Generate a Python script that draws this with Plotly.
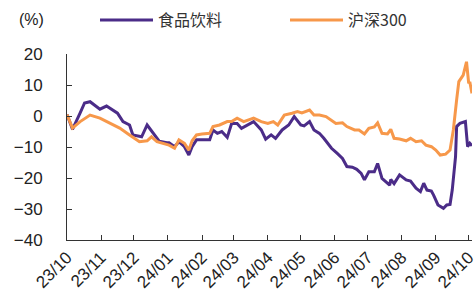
import plotly.graph_objects as go

# 沪深300 (orange)
hs_dates = ["2023-10-01","2023-10-06","2023-10-13","2023-10-22","2023-10-31","2023-11-09","2023-11-18","2023-11-27",
            "2023-12-06","2023-12-13","2023-12-17","2023-12-22","2023-12-27","2024-01-02","2024-01-07","2024-01-11",
            "2024-01-16","2024-01-20","2024-01-23","2024-01-27","2024-02-01","2024-02-08","2024-02-11","2024-02-17",
            "2024-02-24","2024-02-28","2024-03-04","2024-03-10","2024-03-19","2024-03-26","2024-04-01","2024-04-06",
            "2024-04-10","2024-04-16","2024-04-23","2024-04-28","2024-05-02","2024-05-09","2024-05-13","2024-05-18",
            "2024-05-24","2024-05-29","2024-06-02","2024-06-08","2024-06-12","2024-06-19","2024-06-23","2024-06-28",
            "2024-07-02","2024-07-07","2024-07-10","2024-07-14","2024-07-19","2024-07-22","2024-07-25","2024-07-30",
            "2024-08-05","2024-08-09","2024-08-14","2024-08-19","2024-08-23","2024-08-28","2024-09-01","2024-09-05",
            "2024-09-10","2024-09-14","2024-09-17","2024-09-20","2024-09-22","2024-09-26","2024-09-29","2024-10-01",
            "2024-10-02","2024-10-04"]
hs_values = [0.5,-3.9,-1.8,0.3,-0.7,-2.2,-3.9,-6.1,
             -8.3,-8.0,-6.7,-8.3,-8.8,-9.4,-10.4,-7.7,
             -8.8,-11.0,-8.0,-6.1,-5.8,-5.6,-3.4,-2.9,
             -1.8,-1.8,-0.7,-1.8,-0.7,-1.8,-2.4,-1.8,
             -2.9,0.3,0.9,1.4,1.0,1.9,0.3,0.3,
             -0.2,-1.3,-2.4,-2.2,-3.4,-4.5,-4.5,-5.8,
             -4.0,-3.5,-2.2,-5.6,-5.8,-4.3,-7.2,-7.4,
             -8.0,-7.2,-8.3,-8.0,-9.4,-9.9,-11.0,-12.6,
             -12.3,-11.0,-4.5,5.2,11.1,13.2,17.5,10.5,
             11.0,7.3]

# 食品饮料 (purple)
fb_dates = ["2023-10-01","2023-10-06","2023-10-13","2023-10-17","2023-10-22","2023-10-26","2023-10-31","2023-11-06",
            "2023-11-12","2023-11-16","2023-11-21","2023-11-27","2023-11-30","2023-12-08","2023-12-13","2023-12-20",
            "2023-12-24","2023-12-31","2024-01-02","2024-01-07","2024-01-11","2024-01-16","2024-01-20","2024-01-23",
            "2024-01-27","2024-02-01","2024-02-08","2024-02-11","2024-02-15","2024-02-19","2024-02-24","2024-02-28",
            "2024-03-04","2024-03-08","2024-03-13","2024-03-19","2024-03-26","2024-03-30","2024-04-04","2024-04-08",
            "2024-04-14","2024-04-20","2024-04-25","2024-05-01","2024-05-04","2024-05-09","2024-05-13","2024-05-18",
            "2024-05-22","2024-05-29","2024-06-03","2024-06-08","2024-06-12","2024-06-17","2024-06-21","2024-06-25",
            "2024-06-28","2024-07-02","2024-07-07","2024-07-10","2024-07-14","2024-07-21","2024-07-22","2024-07-25",
            "2024-07-30","2024-08-05","2024-08-09","2024-08-14","2024-08-18","2024-08-21","2024-08-24","2024-08-28",
            "2024-08-30","2024-09-03","2024-09-08","2024-09-11","2024-09-14","2024-09-16","2024-09-19","2024-09-20",
            "2024-09-23","2024-09-28","2024-09-30","2024-10-02","2024-10-04"]
fb_values = [0.5,-4.3,1.0,4.2,4.6,3.5,2.2,3.2,
             1.9,0.9,-1.8,-2.9,-6.1,-6.7,-2.9,-6.1,
             -8.1,-8.6,-8.6,-9.9,-8.3,-9.9,-12.6,-9.9,
             -7.7,-7.7,-7.7,-4.5,-5.6,-5.0,-6.9,-2.4,
             -2.4,-4.0,-2.9,-1.8,-4.5,-7.5,-6.1,-7.2,
             -4.5,-2.9,-0.2,-2.9,-3.2,-1.8,-4.5,-5.6,
             -7.2,-10.4,-12.0,-13.7,-16.3,-16.5,-17.2,-18.5,
             -20.6,-18.0,-18.0,-15.3,-20.1,-22.3,-20.5,-21.8,
             -19.0,-20.6,-21.0,-23.3,-24.4,-21.7,-23.9,-24.2,
             -25.5,-28.7,-29.8,-28.7,-28.5,-23.9,-13.1,-3.4,
             -2.4,-1.8,-9.9,-8.8,-9.6]

tick_vals = ["2023-10-01","2023-11-01","2023-12-01","2024-01-01","2024-02-01","2024-03-01","2024-04-01",
             "2024-05-01","2024-06-01","2024-07-01","2024-08-01","2024-09-01","2024-10-01"]
tick_text = ["23/10","23/11","23/12","24/01","24/02","24/03","24/04","24/05","24/06","24/07","24/08","24/09","24/10"]
y_ticks = [-40, -30, -20, -10, 0, 10, 20]

FONT = "Liberation Sans, Arial, Noto Sans CJK SC, sans-serif"
LEG_FONT = dict(size=16, family="Noto Sans CJK SC, Liberation Sans, sans-serif", color="#333333")

fig = go.Figure()
fig.add_trace(go.Scatter(x=fb_dates, y=fb_values, name="食品饮料", mode="lines",
                         line=dict(color="#4B2C88", width=3), legend="legend"))
fig.add_trace(go.Scatter(x=hs_dates, y=hs_values, name="沪深300", mode="lines",
                         line=dict(color="#F7984A", width=3), legend="legend2"))

fig.update_layout(
    width=474, height=300,
    margin=dict(l=67, r=2, t=54, b=60, autoexpand=False),
    paper_bgcolor="white", plot_bgcolor="white",
    font=dict(family=FONT, color="#222222"),
    showlegend=True,
    legend=dict(orientation="h", xref="container", yref="container",
                x=95/474, xanchor="left", y=1-20/300, yanchor="middle",
                font=LEG_FONT, itemwidth=53, bgcolor="rgba(0,0,0,0)"),
    legend2=dict(orientation="h", xref="container", yref="container",
                 x=285/474, xanchor="left", y=1-20/300, yanchor="middle",
                 font=LEG_FONT, itemwidth=53, bgcolor="rgba(0,0,0,0)"),
    annotations=[dict(text="(%)", x=(17-67)/405, y=(240-20)/186, xref="paper", yref="paper",
                      xanchor="left", yanchor="middle", showarrow=False,
                      font=dict(size=16, family=FONT, color="#222222"))],
)
fig.update_xaxes(type="date", range=["2023-10-01", "2024-10-04"],
                 tickmode="array", tickvals=tick_vals, ticktext=tick_text, tickangle=-45,
                 ticks="inside", ticklen=5, tickcolor="#333333", tickwidth=1,
                 showline=True, linecolor="#333333", linewidth=1,
                 showgrid=False, zeroline=False, automargin=False, ticklabeloverflow="allow",
                 tickfont=dict(size=17, family=FONT, color="#222222"))
fig.update_yaxes(range=[-40, 20], tickvals=y_ticks,
                 ticks="inside", ticklen=5, tickcolor="#333333", tickwidth=1,
                 showline=True, linecolor="#333333", linewidth=1,
                 showgrid=False, zeroline=False, ticklabelstandoff=20, automargin=False,
                 tickfont=dict(size=17, family=FONT, color="#222222"))

fig.write_html("out.html", config={"displayModeBar": False},
               post_script="document.body.style.margin='0';document.body.style.padding='0';")
